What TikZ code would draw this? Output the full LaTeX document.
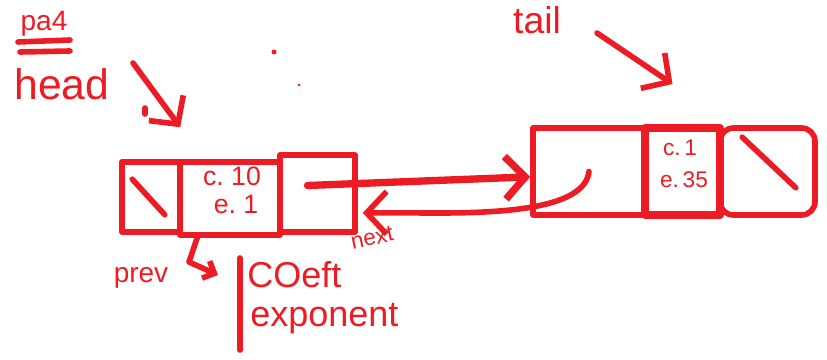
\documentclass[tikz,border=0pt]{standalone}
\usepackage{fontspec}
\setmainfont{Liberation Sans}
\usetikzlibrary{arrows.meta}
\definecolor{ink}{RGB}{237,28,36}
\begin{document}
\begin{tikzpicture}[x=0.75pt,y=-0.75pt,
  pen/.style={draw=ink,line width=4.2pt,line cap=round,line join=round},
  thickpen/.style={draw=ink,line width=6pt,line cap=round,line join=round},
  cell/.style={pen,rectangle,inner sep=0pt},
  lbl/.style={text=ink,inner sep=0pt},
  bigbarb/.style={-{Straight Barb[length=15pt,width=32pt]}},
  smallbarb/.style={-{Straight Barb[length=7pt,width=14pt]}}
]
\useasboundingbox (0,0) rectangle (827,360);

% left node
\node[cell,minimum width=43.5pt,minimum height=52.5pt] (n1a) at (151,197) {};
\node[cell,minimum width=75pt,minimum height=54.75pt] (n1b) at (230,198.5) {};
\node[cell,minimum width=56.25pt,minimum height=57.75pt] (n1c) at (317.5,193.5) {};
\draw[pen] ([shift={(13,20)}]n1a.north west) -- ([shift={(-18,-20)}]n1a.south east);
\node[lbl,font=\fontsize{20}{20}\selectfont] (c10) at (232,176) {c.\;10};
\node[lbl,font=\fontsize{20}{20}\selectfont] (e1) at (236,204) {e.\;1};

% right node
\node[cell,minimum width=84pt,minimum height=65.25pt] (n2a) at (589,171.5) {};
\node[cell,thickpen,minimum width=56.25pt,minimum height=65.25pt] (n2b) at (682.5,171.5) {};
\node[cell,rounded corners=10pt,minimum width=71.25pt,minimum height=65.25pt] (n2c) at (767.5,171.5) {};
\draw[pen] ([shift={(25,12)}]n2c.north west) -- ([shift={(-22,-30)}]n2c.south east);
\node[lbl,font=\fontsize{17}{17}\selectfont] (c1) at (680,148) {c.\,1};
\node[lbl,font=\fontsize{17}{17}\selectfont] (e35) at (684,180) {e.\,35};

% labels
\node[lbl,font=\fontsize{21}{21}\selectfont] (pa4) at (44,24) {pa4};
\draw[pen] (18,42) -- (70,40);
\draw[pen] (20,52) -- (70,51);
\node[lbl,font=\fontsize{32}{32}\selectfont] (head) at (62,84) {head};
\node[lbl,font=\fontsize{28}{28}\selectfont] (tail) at (537,20) {tail};
\node[lbl,font=\fontsize{17}{17}\selectfont,rotate=12] (next) at (372,238) {next};
\node[lbl,font=\fontsize{21}{21}\selectfont] (prev) at (141,278) {prev};
\node[lbl,font=\fontsize{27}{27}\selectfont,anchor=west] (coeft) at (247,275) {COeft};
\node[lbl,font=\fontsize{27}{27}\selectfont,anchor=west] (expo) at (250,319) {exponent};
\coordinate (brtop) at (240,258);
\coordinate (brbot) at (240,350);
\draw[pen] (brtop) -- (brbot);

% stray marks
\fill[ink] (274,52) circle[radius=2.5];
\fill[ink] (299,85) circle[radius=1.5];
\draw[pen] (145,108) -- (145,114);

% connectors
\coordinate (h0) at (133,63);
\draw[pen,bigbarb] (h0) -- ([shift={(3,-32)}]n1b.north west);
\coordinate (t0) at (597,33);
\draw[pen,bigbarb] (t0) -- ([shift={(-10,-40)}]n2b.north);
\draw[pen,line width=5.5pt,bigbarb] ([shift={(-10,-8)}]n1c.center) -- ([yshift=-4pt]n2a.west);
\draw[pen,bigbarb] (n2a.center) .. controls (585,205) and (520,213) .. (440,213) -- ([shift={(5,-22)}]n1c.south east);
\draw[pen,smallbarb] ([xshift=15pt]n1b.south west) -- (189,262) -- ([shift={(-22,17)}]brtop);
\end{tikzpicture}
\end{document}
